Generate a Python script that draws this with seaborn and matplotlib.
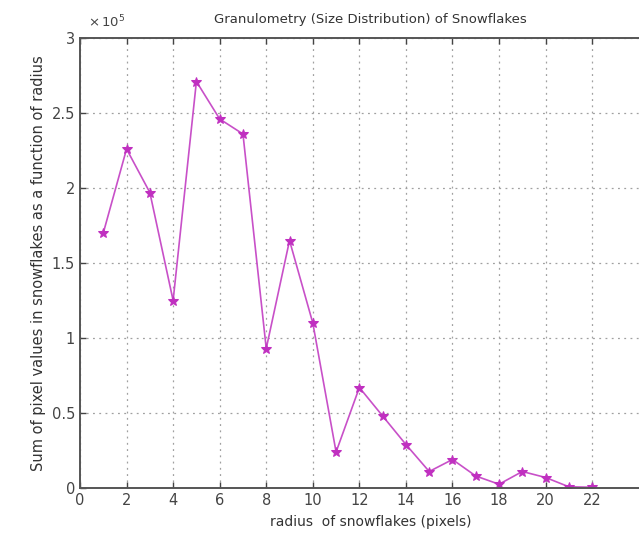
import matplotlib
matplotlib.use("Agg")
import matplotlib.pyplot as plt
import seaborn as sns
import pandas as pd

# Data (values in units of 10^5)
radius = [1, 2, 3, 4, 5, 6, 7, 8, 9, 10, 11, 12, 13, 14, 15, 16, 17, 18, 19, 20, 21, 22]
pixel_sum_e5 = [1.70, 2.26, 1.97, 1.25, 2.71, 2.46, 2.36, 0.93, 1.65, 1.10, 0.24, 0.67,
                0.48, 0.29, 0.11, 0.19, 0.08, 0.025, 0.11, 0.07, 0.008, 0.005]
xticks = [0, 2, 4, 6, 8, 10, 12, 14, 16, 18, 20, 22]
yticks = [0, 0.5, 1, 1.5, 2, 2.5, 3]
ytick_labels = ["0", "0.5", "1", "1.5", "2", "2.5", "3"]

df = pd.DataFrame({"radius": radius, "value": pixel_sum_e5})

sns.set_style("white")
plt.rcParams['font.family'] = ['DejaVu Sans']

fig = plt.figure(figsize=(6.39, 5.37), dpi=100)
ax = fig.add_axes([80 / 639, 1 - 488 / 537, (662 - 80) / 639, (488 - 38) / 537])

sns.lineplot(data=df, x="radius", y="value", ax=ax, color="#c850c8",
             linewidth=1.2, marker="*", markersize=7, markeredgecolor="#c030c0",
             markerfacecolor="#c030c0")

ax.set_xlim(0, 25)
ax.set_ylim(0, 3)
ax.set_xticks(xticks)
ax.set_xticklabels([str(t) for t in xticks])
ax.set_yticks(yticks)
ax.set_yticklabels(ytick_labels)

ax.grid(True, linestyle=(0, (1.5, 3.5)), color="#a0a0a0", linewidth=0.9)
ax.tick_params(direction="in", length=4, width=1, colors="#444444",
               labelsize=10.5, top=True, bottom=True, left=True, right=False,
               labelcolor="#444444")
for side in ["left", "bottom", "top"]:
    ax.spines[side].set_visible(True)
    ax.spines[side].set_color("#555555")
    ax.spines[side].set_linewidth(1.4)
ax.spines["right"].set_visible(False)

ax.set_xlabel("radius  of snowflakes (pixels)", fontsize=10, color="#333333", labelpad=5)
ax.set_ylabel("Sum of pixel values in snowflakes as a function of radius",
              fontsize=10.5, color="#333333", labelpad=4)
fig.text(370 / 639, 1 - 20 / 537, "Granulometry (Size Distribution) of Snowflakes",
         ha="center", va="center", fontsize=9.5, color="#333333")
fig.text(88 / 639, 1 - 22 / 537, r"$\times\,10^5$", ha="left", va="center",
         fontsize=9.5, color="#444444")

fig.savefig("out.png", dpi=100)
